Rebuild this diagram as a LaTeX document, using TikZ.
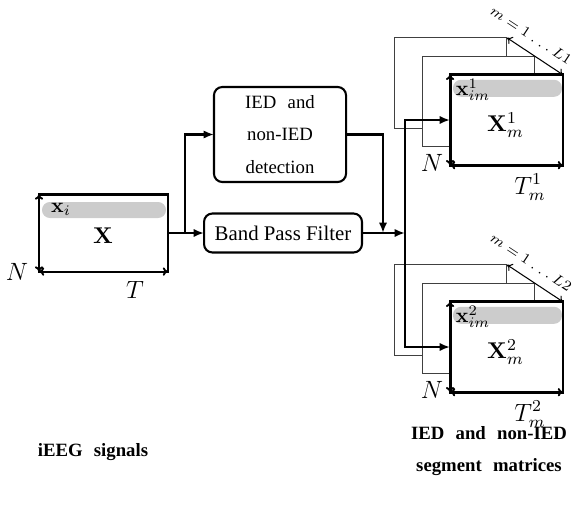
\documentclass[tikz,border=0pt]{standalone}
\usepackage{amsmath}
\usepackage{amsfonts}
\usepackage[no-math]{fontspec}
\setmainfont{Liberation Serif}
\usetikzlibrary{arrows.meta}
\newcommand{\widespace}{\spaceskip=0.6em plus 0.1em\relax}

\begin{document}
\begin{tikzpicture}[x=0.48pt, y=-0.48pt, line width=1pt,
    blk/.style={draw, rounded corners=4pt, inner sep=0pt, outer sep=0pt, align=center},
    mat/.style={draw, inner sep=0pt, outer sep=0pt, minimum width=54.2pt, minimum height=43.4pt},
    layer/.style={mat, draw=black!75, line width=0.5pt, fill=white},
    front/.style={mat, line width=1.4pt, fill=white},
    bar/.style={fill=black!20, rounded corners=3.8pt},
    size/.style={font=\large},
    big/.style={font=\fontsize{11}{13}\selectfont},
    flow/.style={-{Latex[length=5pt, width=4pt]}},
    dim/.style={{To[length=2.5pt, width=4pt]}-{To[length=2.5pt, width=4pt]}, line width=0.9pt},
    caption/.style={font=\fontsize{9}{15.4}\selectfont\bfseries\widespace, align=center}]
    \useasboundingbox (0,0) rectangle (572,506);
    % input signal matrix
    \node[mat, minimum width=61.9pt, minimum height=37pt] (X) at (103.5,233) {};
    \fill[bar] (42,202) rectangle (166,218);
    \node at (61,209) {$\mathbf{x}_i$};
    \node[big] at (103,236) {$\mathbf{X}$};
    \draw[dim] (X.south west) -- (X.north west);
    \draw[dim] (X.south west) -- (X.south east);
    \node[size] at ([shift={(-22,0)}]X.south west) {$N$};
    \node[size] at ([shift={(-33,18)}]X.south east) {$T$};
    % processing blocks
    \node[blk, minimum width=63.4pt, minimum height=45.6pt,
          font=\fontsize{9}{15.4}\selectfont\widespace] (IED) at (280,134.5)
          {IED and\\non-IED\\detection};
    \node[blk, minimum width=75.8pt, minimum height=18.7pt] (BPF) at (283,233) {Band Pass Filter};
    % segment matrices
    \foreach \k/\y in {1/120, 2/347}{
        \node[layer] (B\k) at (450.5,\y-37) {};
        \node[layer] (C\k) at (478.5,\y-18.5) {};
        \node[front] (M\k) at (506.5,\y) {};
        \fill[bar] ([shift={(3,5)}]M\k.north west) rectangle ([shift={(-1,22)}]M\k.north east);
        \node at ([shift={(23,15)}]M\k.north west) {$\mathbf{x}_{im}^{\k}$};
        \node[big] at ([shift={(-1,5)}]M\k.center) {$\mathbf{X}_m^{\k}$};
        \draw[dim] (M\k.south west) -- (M\k.north west);
        \draw[dim] (M\k.south west) -- (M\k.south east);
        \draw[dim, line width=0.5pt] (B\k.north east) -- (M\k.north east)
            node[pos=0.28, sloped, above=1.5pt, font=\scriptsize] {$m = 1\ .\ .\ .\ L\k$};
        \node[size] at ([shift={(-18,-2)}]M\k.south west) {$N$};
        \node[size] at ([shift={(-33,22)}]M\k.south east) {$T_m^{\k}$};
    }
    % connectors
    \coordinate (split) at (185,233);
    \coordinate (join) at (383,233);
    \coordinate (fork) at (405,233);
    \draw[flow] (X.east) -- (BPF.west);
    \draw[flow] (split) |- (IED.west);
    \draw[flow] (IED.east) -| (join);
    \draw[flow] (BPF.east) -- (fork);
    \draw[flow] (fork) |- (M1.west);
    \draw[flow] (fork) |- (M2.west);
    % captions
    \node[caption] (inlbl) at (93,452) {iEEG signals};
    \node[caption] (outlbl) at (489,451) {IED and non-IED\\segment matrices};
\end{tikzpicture}
\end{document}
